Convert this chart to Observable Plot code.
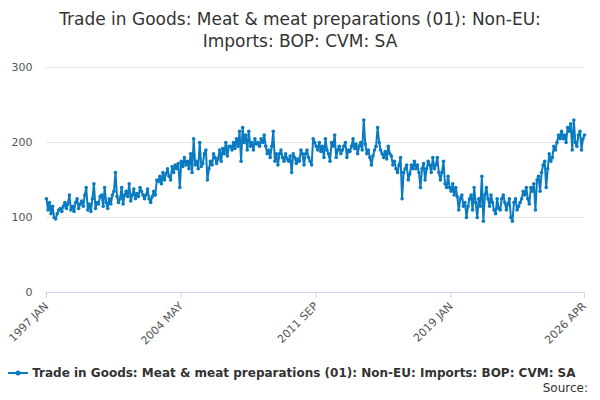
<!DOCTYPE html>
<html><head><meta charset="utf-8">
<script src="https://cdn.jsdelivr.net/npm/d3@7"></script>
<script src="https://cdn.jsdelivr.net/npm/@observablehq/plot@0.6"></script>
<style>
body{margin:0;font-family:"DejaVu Sans",sans-serif;background:#fff;}
#t{height:62px;text-align:center;font-size:17px;color:#333;line-height:22px;padding-top:8px;box-sizing:border-box;}
#lg{font-size:12px;font-weight:bold;color:#333;margin-left:8px;height:16px;margin-top:3px;display:flex;align-items:center;white-space:nowrap;}
#src{font-size:12px;color:#333;text-align:right;margin-right:12px;line-height:14px;}
</style></head><body>
<div id="t">Trade in Goods: Meat &amp; meat preparations (01): Non-EU:<br>Imports: BOP: CVM: SA</div>
<div id="c"></div>
<div id="lg"><svg width="20" height="10"><line x1="0" y1="5" x2="20" y2="5" stroke="#0a7bc1" stroke-width="2"/><circle cx="10" cy="5" r="2.5" fill="#0a7bc1"/></svg>&nbsp;Trade in Goods: Meat &amp; meat preparations (01): Non-EU: Imports: BOP: CVM: SA</div>
<div id="src">Source:</div>
<script>
const startYear = 1997;
const values = [
125,110,120,105,115,100,98,105,110,112,108,115,
120,112,118,130,110,115,108,120,125,112,118,122,
115,130,140,110,118,108,125,145,112,120,118,128,
130,115,140,120,112,125,118,130,135,160,128,120,
125,140,118,130,135,128,145,122,130,138,125,132,
128,140,135,130,125,130,138,125,120,128,135,130,
150,148,155,145,160,150,158,165,155,150,168,160,
170,165,172,140,175,168,180,170,175,165,185,160,
205,170,175,165,200,168,172,185,190,150,165,175,
170,185,180,172,178,190,175,192,185,200,182,195,
195,190,200,192,205,195,215,175,220,200,210,190,
215,195,200,190,205,198,200,195,205,200,210,195,
185,190,180,195,215,175,185,170,185,190,180,175,
185,178,175,182,160,185,180,172,178,175,190,185,
170,185,190,180,175,170,205,200,195,190,200,188,
195,180,205,190,185,175,200,195,210,180,190,195,
185,190,195,200,180,190,188,195,205,192,198,185,
195,200,190,230,198,185,190,180,170,182,190,195,
220,200,190,185,180,188,178,195,185,182,170,175,
165,160,170,180,125,160,165,170,150,158,170,165,
175,165,170,160,140,165,172,150,165,175,170,160,
180,165,170,180,160,150,160,175,145,140,155,140,
135,145,130,140,128,110,125,130,115,120,100,115,
125,130,110,140,120,100,125,115,155,95,130,140,
125,115,130,120,110,105,125,112,110,125,130,120,
110,118,125,100,95,120,125,110,115,120,125,135,
130,140,125,118,140,135,145,110,150,155,135,160,
170,175,140,165,185,175,180,195,190,200,210,205,
215,205,210,200,220,215,225,190,230,200,195,210,
215,190,205,210];
const tickLabels = ["1997 JAN","2004 MAY","2011 SEP","2019 JAN","2026 APR"];
const yTicks = [0,100,200,300];
const mon = {JAN:0,FEB:1,MAR:2,APR:3,MAY:4,JUN:5,JUL:6,AUG:7,SEP:8,OCT:9,NOV:10,DEC:11};
const data = values.map((v,i)=>({date:new Date(startYear + Math.floor(i/12), i%12, 1), value:v}));
const ticks = tickLabels.map(s=>{const [y,m]=s.split(" ");return new Date(+y, mon[m], 1);});
const fmt = d => tickLabels[ticks.findIndex(t=>+t===+d)];
const col = "#0a7bc1";
const chart = Plot.plot({
  width:600, height:300, marginTop:5, marginBottom:70, marginLeft:46, marginRight:16,
  style:{fontFamily:"DejaVu Sans", fontSize:"11px", color:"#555"},
  x:{type:"time", domain:[ticks[0], ticks[ticks.length-1]], ticks:ticks, tickFormat:fmt, tickRotate:-45, label:null, tickSize:5},
  y:{domain:[0,300], ticks:yTicks, label:null, tickSize:0, tickPadding:14},
  marks:[
    Plot.gridY(yTicks,{stroke:"#e6e6e6", strokeOpacity:1}),
    Plot.ruleY([0],{stroke:"#ccd6eb"}),
    Plot.axisX({ticks:ticks, tickFormat:fmt, tickRotate:-45, stroke:"#ccd6eb", fill:"#555", label:null}),
    Plot.line(data,{x:"date",y:"value",stroke:col,strokeWidth:2}),
    Plot.dot(data,{x:"date",y:"value",fill:col,r:1.8})
  ]
});
document.getElementById("c").appendChild(chart);
</script></body></html>
